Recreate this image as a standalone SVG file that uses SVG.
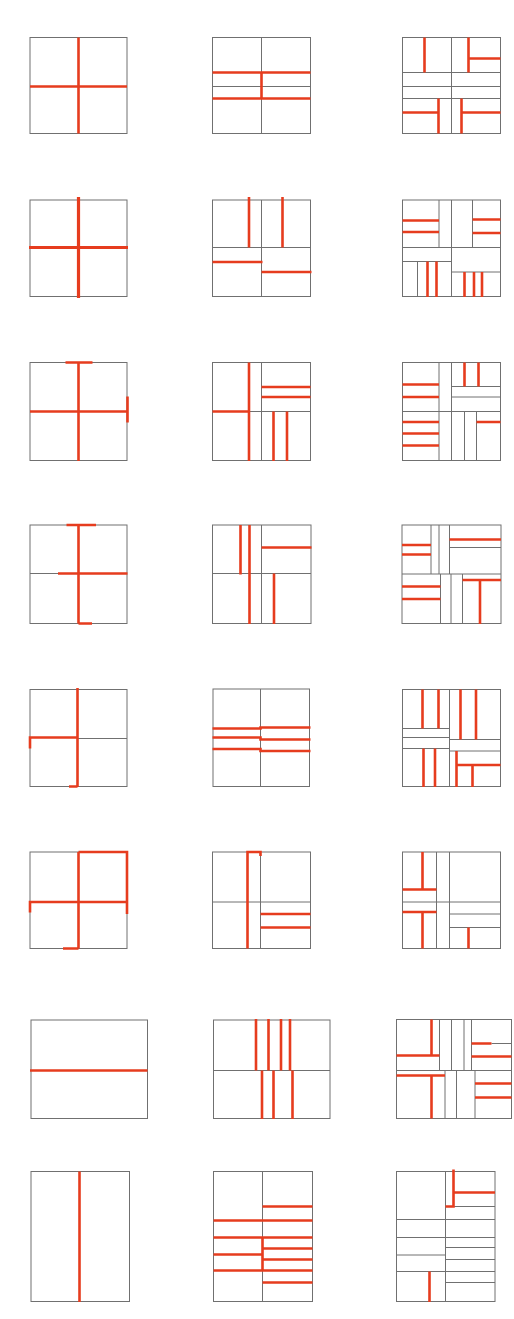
<svg xmlns="http://www.w3.org/2000/svg" width="514" height="1319" viewBox="0 0 514 1319">
<style>
.g{fill:none;stroke:#707070;stroke-width:1}
.r{fill:none;stroke:#e63c1e;stroke-width:2.6;stroke-linecap:butt}
.rt{fill:none;stroke:#e63c1e;stroke-width:3.2}
</style>
<rect width="514" height="1319" fill="#ffffff"/>
<g id="r1c1"><rect class="g" x="30" y="37.5" width="97" height="96"/><path class="r" d="M78.5 37.5V133.5M30 86.5H127"/></g>
<g id="r1c2"><rect class="g" x="212.5" y="37.5" width="98" height="96"/><path class="g" d="M261.5 37.5V133.5M212.5 86.5H310.5"/><path class="r" d="M212.5 72.5H310.5M212.5 98.5H310.5M261.5 72.5V98.5"/></g>
<g id="r1c3"><rect class="g" x="402.5" y="37.5" width="98" height="96"/><path class="g" d="M451.5 37.5V133.5M402.5 72.5H500.5M402.5 86.5H500.5M402.5 98.5H500.5"/><path class="r" d="M424.5 37.5V72.5M468.5 37.5V72.5M468.5 58.5H500.5M402.5 112.5H438.5M438.5 98.5V133.5M461.5 98.5V133.5M461.5 112.5H500.5"/></g>

<g id="r2c1"><rect class="g" x="30" y="200" width="97" height="96.5"/><path class="rt" d="M78.5 197V298M29 247.5H128"/></g>
<g id="r2c2"><rect class="g" x="212.5" y="200" width="98" height="96.5"/><path class="g" d="M261.5 200V296.5M212.5 247.5H310.5"/><path class="r" d="M249 197V247.5M282.5 197V247.5M212.5 262H262.5M261.5 272H311.5"/></g>
<g id="r2c3"><rect class="g" x="402.5" y="200" width="98" height="96.5"/><path class="g" d="M451.5 200V296.5M402.5 247.5H500.5M439 200V247.5M472.5 200V247.5M402.5 261.5H451.5M417.5 261.5V296.5M451.5 272H500.5"/><path class="r" d="M402.5 220.5H439M402.5 232H439M472.5 219.5H500.5M472.5 233H500.5M427.5 261.5V297M436.5 261.5V297M464.5 272V297M474 272V297M482 272V297"/></g>

<g id="r3c1"><rect class="g" x="30" y="362.5" width="97" height="98"/><path class="r" d="M78.5 362.5V461M30 411.5H127.5M65.5 362.5H92.5M127.5 396.5V422.5"/></g>
<g id="r3c2"><rect class="g" x="212.5" y="362.5" width="98" height="98"/><path class="g" d="M261.5 362.5V460.5M212.5 411.5H310.5"/><path class="r" d="M249 362.5V461M212.5 411.5H249M261.5 387H310.5M261.5 397H310.5M273.5 411.5V461M287 411.5V461"/></g>
<g id="r3c3"><rect class="g" x="402.5" y="362.5" width="98" height="98"/><path class="g" d="M439 362.5V460.5M451.5 362.5V460.5M402.5 411.5H500.5M451.5 386.5H500.5M451.5 397H500.5M464.5 411.5V460.5M476.5 411.5V460.5"/><path class="r" d="M464.5 362.5V386.5M478.5 362.5V386.5M402.5 384.5H439M402.5 397H439M402.5 422H439M402.5 433.5H439M402.5 445.5H439M476.5 422H500.5"/></g>

<g id="r4c1"><rect class="g" x="30" y="525" width="97" height="98.5"/><path class="g" d="M30 573.5H58"/><path class="r" d="M78.5 525V623.5M66.5 525H96M58 573.5H127.5M78.5 623.5H92"/></g>
<g id="r4c2"><rect class="g" x="212.5" y="525" width="98.5" height="98.5"/><path class="g" d="M261.5 525V623.5M212.5 573.5H311"/><path class="r" d="M240.5 525V574.5M249.5 525V624M274 573.5V624M261.5 547.5H311.5"/></g>
<g id="r4c3"><rect class="g" x="402" y="525" width="99" height="98.5"/><path class="g" d="M431 525V574M439 525V574M449.5 525V574M402 574H501M449.5 547.5H501M440.5 574V623.5M451 574V623.5M462.5 574V623.5"/><path class="r" d="M402 545H431M402 554.5H431M449.5 539.5H501M402 586.5H440.5M402 599H440.5M462.5 580H501M480 580V624"/></g>

<g id="r5c1"><rect class="g" x="30" y="689.5" width="97" height="97"/><path class="g" d="M77.5 738.5H127"/><path class="r" d="M77.5 688V787M30 748.5V737.5H77.5M69 786.5H77.5"/></g>
<g id="r5c2"><rect class="g" x="213" y="689" width="96.5" height="97.5"/><path class="g" d="M260.5 689V786.5"/><path class="r" d="M212.5 728.5H260.5V727.5H310.5M212.5 737.5H260.5V739.5H310.5M212.5 749H260.5V751H310.5"/></g>
<g id="r5c3"><rect class="g" x="402.5" y="689.5" width="98" height="97"/><path class="g" d="M449.5 689.5V786.5M402.5 728.5H449.5M402.5 737.5H449.5M402.5 748.5H449.5M449.5 739.5H500.5M449.5 751H500.5"/><path class="r" d="M422.5 689.5V728.5M438.5 689.5V728.5M460.5 689.5V739.5M476 689.5V739.5M423.5 748.5V787M435 748.5V787M456.5 751V787M456.5 765H500.5M472.5 765V787"/></g>

<g id="r6c1"><rect class="g" x="30" y="852" width="97" height="96.5"/><path class="r" d="M78.5 852V948.5M78.5 852H127V914M30 912.5V902H127M63 948.5H78.5"/></g>
<g id="r6c2"><rect class="g" x="212.5" y="852" width="98" height="96.5"/><path class="g" d="M260.5 852V948.5M212.5 902H310.5"/><path class="r" d="M247.5 948.5V852H260.5V856M260.5 914H310.5M260.5 927.5H310.5"/></g>
<g id="r6c3"><rect class="g" x="402.5" y="852" width="98" height="96.5"/><path class="g" d="M436.5 852V948.5M449.5 852V948.5M402.5 902H500.5M449.5 914H500.5M449.5 927.5H500.5"/><path class="r" d="M422.5 852V889.5M402.5 889.5H436.5M402.5 912H436.5M422.5 912V948.5M468.5 927.5V948.5"/></g>

<g id="r7c1"><rect class="g" x="31" y="1020" width="116.5" height="98.5"/><path class="r" d="M30 1070.5H147.5"/></g>
<g id="r7c2"><rect class="g" x="213.5" y="1020" width="116.5" height="98.5"/><path class="g" d="M213.5 1070.5H330"/><path class="r" d="M256 1019V1070.5M268.5 1019V1070.5M281 1019V1070.5M290 1019V1070.5M262 1070.5V1119M273.5 1070.5V1119M292.5 1070.5V1119"/></g>
<g id="r7c3"><rect class="g" x="396.5" y="1019.5" width="115" height="99"/><path class="g" d="M439.5 1019.5V1070.5M451.5 1019.5V1070.5M464 1019.5V1070.5M471.5 1019.5V1070.5M396.5 1070.5H511.5M445 1070.5V1118.5M456.5 1070.5V1118.5M475 1070.5V1118.5M491.5 1043.5H511.5"/><path class="r" d="M431.5 1019.5V1055.5M396.5 1055.5H439.5M396.5 1075.5H445M431.5 1075.5V1118.5M471.5 1043.5H491.5M471.5 1056.5H511.5M475 1083.5H511.5M475 1097.5H511.5"/></g>

<g id="r8c1"><rect class="g" x="31" y="1171.5" width="98.5" height="130"/><path class="r" d="M79.5 1171.5V1302"/></g>
<g id="r8c2"><rect class="g" x="213.5" y="1171.5" width="99" height="130"/><path class="g" d="M262.5 1171.5V1301.5"/><path class="r" d="M262.5 1206.5H312.5M213.5 1220.5H312.5M213.5 1237.5H312.5M262.5 1248.5H312.5M213.5 1254.5H262.5M262.5 1259.5H312.5M213.5 1270.5H312.5M262.5 1282.5H312.5M262.5 1237.5V1270.5"/></g>
<g id="r8c3"><rect class="g" x="396.5" y="1171.5" width="98.5" height="130"/><path class="g" d="M445.5 1171.5V1301.5M396.5 1219.5H445.5M396.5 1237.5H445.5M396.5 1255H445.5M396.5 1271.5H445.5M445.5 1206.5H495M445.5 1219.5H495M445.5 1237.5H495M445.5 1247.5H495M445.5 1259.5H495M445.5 1271.5H495M445.5 1282.5H495"/><path class="r" d="M453.5 1169.5V1206.5H445.5M453.5 1192.5H495M429.5 1271.5V1302"/></g>
<g id="connectors"></g>
</svg>
